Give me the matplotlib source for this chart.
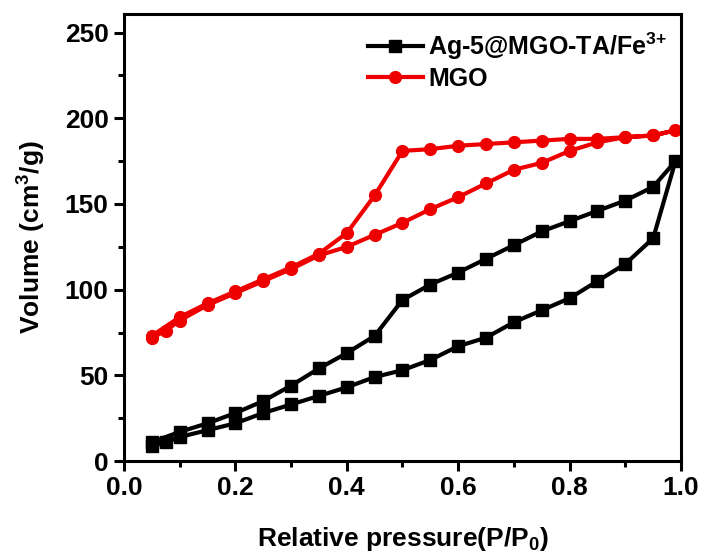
import numpy as np
import matplotlib.pyplot as plt
from matplotlib.ticker import MultipleLocator

plt.rcParams['font.family'] = ['Liberation Sans', 'DejaVu Sans']
plt.rcParams['font.weight'] = 'bold'
plt.rcParams['axes.labelweight'] = 'bold'
plt.rcParams['mathtext.fontset'] = 'custom'
plt.rcParams['mathtext.rm'] = 'Liberation Sans:bold'
plt.rcParams['mathtext.it'] = 'Liberation Sans:bold'
plt.rcParams['mathtext.bf'] = 'Liberation Sans:bold'

# adsorption branch (P/P0 going up)
p_ads = [0.05, 0.075, 0.1, 0.15, 0.2, 0.25, 0.3, 0.35, 0.4, 0.45, 0.5,
         0.55, 0.6, 0.65, 0.7, 0.75, 0.8, 0.85, 0.9, 0.95, 0.99]
# desorption branch (P/P0 going down)
p_des = [0.95, 0.9, 0.85, 0.8, 0.75, 0.7, 0.65, 0.6, 0.55, 0.5,
         0.45, 0.4, 0.35, 0.3, 0.25, 0.2, 0.15, 0.1, 0.05]

ag_ads = [9, 11, 14, 18, 22, 28, 33, 38, 43, 49, 53,
          59, 67, 72, 81, 88, 95, 105, 115, 130, 175]
ag_des = [160, 152, 146, 140, 134, 126, 118, 110, 103, 94,
          73, 63, 54, 44, 35, 28, 22, 17, 11]

mgo_ads = [72, 76, 82, 91, 98, 105, 112, 120, 125, 132, 139,
           147, 154, 162, 170, 174, 181, 186, 189, 190, 193]
mgo_des = [190, 189, 188, 188, 187, 186, 185, 184, 182, 181,
           155, 133, 121, 113, 106, 99, 92, 84, 73]

fig = plt.figure(figsize=(7.06, 5.59), dpi=100)
ax = fig.add_axes([0.1756, 0.1753, 0.789, 0.800])

ax.plot(p_ads + p_des, ag_ads + ag_des, '-s', color='black', lw=3,
        markersize=8, label='Ag-5@MGO-TA/Fe$^{3\\!+}$')
ax.plot(p_ads + p_des, mgo_ads + mgo_des, '-o', color='#ee0000', lw=3,
        markersize=8.5, label='MGO')

ax.set_xlim(0, 1.0)
ax.set_ylim(0, 261)
ax.xaxis.set_major_locator(MultipleLocator(0.2))
ax.xaxis.set_minor_locator(MultipleLocator(0.1))
ax.yaxis.set_major_locator(MultipleLocator(50))
ax.yaxis.set_minor_locator(MultipleLocator(25))
ax.xaxis.set_major_formatter(lambda v, pos: f'{v:.1f}')

for s in ax.spines.values():
    s.set_linewidth(2.2)
ax.tick_params(which='major', length=7, width=2.2, labelsize=19, pad=4)
ax.tick_params(which='minor', length=4, width=2.2)

ax.set_xlabel('Relative pressure(P/P$_{0}$)', fontsize=19, labelpad=18)
ax.set_ylabel('Volume (cm$^{3}$/g)', fontsize=19, labelpad=12)

ax.legend(loc='upper left', bbox_to_anchor=(0.42, 0.985), frameon=False,
          fontsize=18, handlelength=2.2, handletextpad=0.2,
          labelspacing=0.2, borderaxespad=0)

fig.savefig('out.png', dpi=100)
